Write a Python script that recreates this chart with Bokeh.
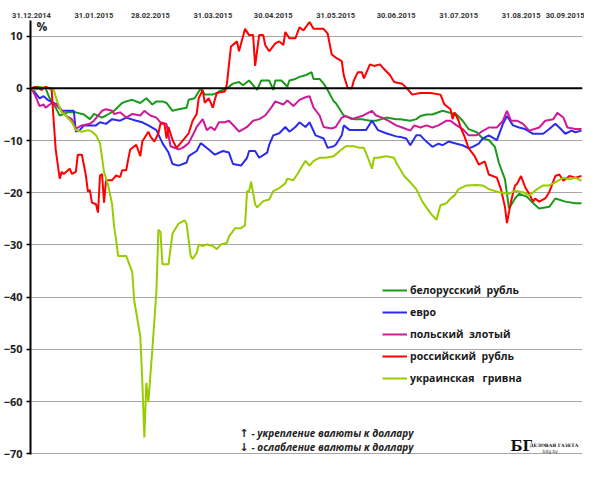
from bokeh.plotting import figure
from bokeh.models import Range1d, FixedTicker, Label, Span
from bokeh.embed import file_html
from bokeh.resources import INLINE

# --- x axis (days since 31.12.2014) ---
tick_days = [0, 31, 59, 90, 120, 151, 181, 212, 243, 273]
tick_labels = ["31.12.2014", "31.01.2015", "28.02.2015", "31.03.2015", "30.04.2015",
               "31.05.2015", "30.06.2015", "31.07.2015", "31.08.2015", "30.09.2015"]
y_ticks = [-70, -60, -50, -40, -30, -20, -10, 0, 10]

series_names = ["белорусский  рубль", "евро", "польский  злотый", "российский  рубль", "украинская   гривна"]
series_colors = ["#1a9a1a", "#2b2bf0", "#d0189a", "#ff0000", "#99cc00"]

byr_days = [0, 3, 7, 9, 12, 14, 18, 22, 26, 29, 31, 35, 37, 41, 45, 47, 50, 54, 57, 60, 62, 65, 67, 70,
            73, 77, 78, 81, 84, 86, 90, 92, 93, 97, 100, 103, 105, 108, 112, 114, 118, 120, 121, 124,
            127, 128, 131, 133, 136, 139, 140, 143, 145, 147, 150, 151, 153, 155, 160, 164, 168, 171,
            176, 181, 183, 188, 191, 193, 196, 199, 204, 207, 211, 214, 217, 221, 224, 227, 230, 232,
            235, 237, 240, 242, 246, 249, 252, 257, 260, 265, 270, 273]
byr_vals = [0, 0.3, 0, -1.9, -3.7, -5.2, -4.6, -4.6, -5.0, -5.9, -4.9, -5.6, -5.2, -4.3, -2.8, -2.5,
            -2.2, -2.8, -1.9, -3.1, -2.5, -2.5, -2.8, -4.3, -4.0, -3.7, -2.2, -1.9, 0, -1.2, -1.2,
            -0.9, -0.6, 0, 0.9, 1.2, 0.6, 1.5, -0.3, 1.5, 1.5, -0.3, 1.5, 1.5, 0.3, 1.5, 1.8, 2.2,
            2.5, 3.1, 1.8, 1.8, 0.9, -0.3, -2.5, -2.8, -4.0, -5.2, -5.9, -5.9, -6.2, -6.2, -5.6,
            -5.9, -5.9, -6.2, -5.9, -5.3, -5.0, -5.0, -4.3, -4.6, -5.0, -6.2, -7.8, -8.4, -9.6,
            -9.9, -11.2, -14.3, -17.4, -23.0, -21.1, -20.2, -20.8, -22.0, -23.0, -22.7, -21.1,
            -21.7, -22.0, -22.0]

eur_days = [0, 2, 4, 6, 8, 11, 13, 15, 21, 22, 24, 26, 32, 34, 37, 40, 44, 47, 52, 55, 58, 62, 65,
            68, 70, 73, 77, 78, 82, 84, 88, 91, 95, 98, 100, 104, 107, 108, 111, 113, 117, 118, 120,
            123, 126, 128, 131, 133, 136, 138, 141, 145, 147, 150, 151, 154, 155, 158, 160, 166, 169,
            172, 176, 181, 183, 186, 188, 191, 193, 196, 199, 202, 204, 207, 211, 214, 217, 219, 222,
            224, 227, 231, 234, 236, 239, 242, 245, 249, 254, 257, 260, 262, 265, 268, 270, 273]
eur_vals = [0, -0.9, -1.9, -1.5, -2.2, -2.8, -3.1, -4.3, -4.3, -8.3, -8.0, -7.1, -7.1, -6.5, -6.8,
            -5.9, -6.2, -5.6, -6.2, -6.5, -7.1, -8.0, -10.5, -12.3, -14.5, -14.8, -14.2, -13.0,
            -12.0, -10.5, -11.7, -12.7, -12.0, -12.3, -14.5, -14.8, -13.3, -12.0, -12.0, -13.3,
            -12.3, -10.8, -9.0, -8.6, -7.4, -8.3, -7.4, -6.5, -7.4, -6.5, -9.0, -9.6, -11.4, -11.1,
            -10.8, -9.0, -7.1, -8.0, -8.0, -8.0, -6.2, -8.0, -8.6, -9.2, -9.3, -9.6, -10.9, -9.0,
            -9.0, -10.2, -11.2, -10.6, -10.9, -10.2, -10.6, -10.9, -11.5, -11.2, -10.6, -9.6, -9.0,
            -9.9, -6.8, -5.3, -7.1, -7.5, -7.8, -8.7, -8.7, -7.8, -6.8, -7.5, -8.7, -8.1, -8.4, -8.1]

pln_days = [0, 2, 4, 6, 7, 10, 12, 15, 17, 20, 22, 25, 29, 31, 35, 37, 40, 41, 44, 47, 50, 54, 56,
            59, 62, 64, 67, 69, 73, 75, 78, 80, 82, 85, 87, 89, 91, 93, 96, 98, 101, 103, 107, 110,
            113, 116, 119, 121, 125, 127, 130, 133, 136, 138, 140, 143, 145, 149, 151, 154, 156,
            159, 164, 169, 171, 174, 177, 181, 184, 188, 190, 193, 196, 199, 202, 206, 208, 211,
            214, 217, 221, 223, 227, 231, 234, 236, 238, 241, 244, 247, 252, 255, 259, 261, 264,
            266, 270, 273]
pln_vals = [0, -1.5, -3.4, -3.1, -3.7, -2.8, -3.1, -4.3, -5.2, -5.9, -7.7, -7.1, -6.8, -6.2, -4.3,
            -4.0, -4.3, -4.9, -4.6, -5.6, -4.9, -5.2, -4.3, -5.2, -5.6, -6.5, -6.8, -11.1, -11.7,
            -11.4, -10.5, -9.0, -7.4, -5.9, -8.0, -7.4, -8.0, -6.5, -6.5, -6.2, -7.4, -8.3, -7.4,
            -6.2, -5.9, -5.2, -3.7, -2.5, -3.1, -2.3, -3.4, -2.2, -1.7, -1.5, -3.7, -5.2, -7.4,
            -7.7, -7.4, -5.6, -5.3, -5.9, -5.3, -4.3, -5.2, -5.6, -6.2, -7.1, -7.5, -8.1, -7.1,
            -7.5, -7.1, -7.5, -7.1, -6.2, -6.2, -7.1, -7.8, -9.0, -9.0, -8.4, -7.5, -7.5, -6.2,
            -4.3, -6.2, -6.2, -6.8, -8.1, -7.5, -6.2, -5.9, -4.7, -5.6, -7.5, -7.8, -7.8]

rub_days = [0, 2, 5, 7, 9, 10, 11, 12, 14, 15, 16, 19, 20, 22, 23, 25, 27, 28, 29, 30, 32, 33, 34,
            35, 36, 37, 40, 42, 44, 45, 47, 48, 49, 52, 54, 55, 58, 59, 61, 63, 64, 66, 67, 68, 70,
            72, 74, 76, 78, 80, 82, 83, 85, 86, 88, 90, 91, 92, 96, 97, 99, 102, 103, 106, 108, 110,
            111, 113, 115, 116, 118, 121, 123, 125, 126, 128, 131, 133, 135, 138, 140, 145, 147,
            149, 151, 154, 155, 157, 159, 160, 162, 164, 165, 168, 170, 173, 175, 178, 180, 184,
            187, 189, 193, 198, 203, 205, 208, 209, 210, 212, 213, 215, 217, 220, 222, 225, 227,
            231, 233, 235, 236, 238, 240, 241, 243, 245, 247, 249, 250, 252, 255, 257, 260, 262,
            264, 267, 270, 273]
rub_vals = [0, 0.3, -0.3, 0.3, 0, -0.3, -6.2, -11.7, -17.3, -16.0, -16.4, -15.4, -16.4, -16.0,
            -12.7, -12.7, -16.7, -19.8, -19.5, -21.9, -22.2, -23.8, -16.7, -16.4, -21.9, -17.6,
            -17.6, -16.7, -17.0, -15.7, -15.7, -13.6, -11.7, -10.8, -13.0, -10.2, -8.3, -9.2,
            -10.2, -8.6, -6.8, -6.8, -9.6, -7.4, -9.9, -11.4, -10.5, -9.6, -8.6, -6.2, -4.9, -1.9,
            -0.3, -2.8, -1.9, -3.7, -2.2, -0.9, -0.6, 0.9, 8.0, 9.0, 7.1, 11.4, 10.2, 10.2, 4.3,
            10.2, 10.2, 8.3, 7.1, 8.6, 9.0, 8.3, 10.8, 9.6, 9.6, 11.7, 11.1, 12.7, 11.4, 11.4, 10.5,
            6.5, 5.9, 5.2, 2.5, 0, 0, 1.5, 3.1, 3.1, 1.9, 4.6, 4.3, 4.6, 3.7, 2.5, 1.2, 0.9, -0.3,
            -1.2, -0.9, -0.9, -1.2, -3.1, -4.0, -5.9, -4.6, -6.2, -7.5, -9.3, -11.5, -13.0, -14.6,
            -14.0, -16.5, -17.1, -19.3, -22.7, -25.8, -21.7, -18.6, -18.3, -16.8, -18.9, -20.2,
            -21.7, -21.1, -21.7, -21.1, -19.9, -16.8, -16.5, -17.7, -16.8, -17.1, -16.8]

uah_days = [0, 2, 5, 7, 10, 11, 13, 15, 17, 20, 22, 25, 28, 30, 32, 34, 36, 38, 40, 41, 42, 43, 47,
            50, 51, 54, 55, 56, 57, 58, 60, 62, 63, 64, 65, 68, 70, 73, 76, 77, 79, 80, 82, 83, 85,
            87, 90, 92, 94, 97, 98, 101, 104, 106, 107, 108, 109, 111, 112, 115, 118, 120, 123, 126,
            127, 130, 132, 135, 136, 138, 140, 143, 146, 150, 153, 156, 160, 163, 165, 167, 169,
            170, 172, 176, 180, 181, 183, 185, 188, 191, 194, 198, 201, 203, 206, 208, 210, 212,
            216, 221, 224, 227, 232, 237, 240, 244, 247, 251, 254, 257, 260, 264, 267, 270, 273]
uah_vals = [0, -0.3, 0.3, 0, 0, -0.3, -2.8, -4.6, -5.2, -6.5, -8.0, -8.3, -8.0, -8.3, -9.0, -10.5,
            -16.0, -18.5, -22.2, -26.5, -29.0, -32.1, -32.1, -35.2, -40.7, -47.5, -56.1, -66.9,
            -56.4, -60.1, -49.9, -38.9, -27.1, -27.5, -33.7, -33.7, -27.8, -25.9, -25.3, -26.0,
            -32.1, -32.7, -31.5, -29.9, -30.2, -29.9, -30.2, -30.8, -29.9, -29.6, -28.4, -26.8,
            -26.8, -26.2, -19.7, -19.7, -17.9, -22.2, -22.8, -21.6, -21.3, -19.7, -19.1, -18.2,
            -17.3, -17.6, -16.4, -14.5, -13.9, -14.8, -13.9, -13.3, -13.3, -13.0, -12.0, -11.1,
            -11.1, -11.4, -11.4, -13.3, -15.4, -13.3, -13.3, -13.0, -13.3, -14.2, -15.5, -16.8,
            -18.0, -19.3, -21.7, -23.9, -25.2, -22.4, -22.0, -21.1, -20.5, -19.3, -18.6, -18.5,
            -18.6, -19.3, -19.9, -20.2, -19.6, -19.9, -20.5, -19.3, -18.6, -18.6, -18.0, -17.1,
            -17.4, -17.1, -17.7]

series_days = [byr_days, eur_days, pln_days, rub_days, uah_days]
series_vals = [byr_vals, eur_vals, pln_vals, rub_vals, uah_vals]

p = figure(width=584, height=461, output_backend="svg", toolbar_location=None,
           x_range=Range1d(-0.5, 273.5), y_range=Range1d(-70.15, 13),
           x_axis_location="above", min_border_left=30, min_border_right=2,
           min_border_top=20, min_border_bottom=7)
p.outline_line_color = None
p.background_fill_color = "white"

# x axis on top
xa = p.xaxis[0]
xa.ticker = FixedTicker(ticks=tick_days)
xa.major_label_overrides = {d: lab for d, lab in zip(tick_days, tick_labels)}
xa.major_tick_out = 0
xa.major_tick_in = 0
xa.minor_tick_out = 0
xa.minor_tick_in = 0
xa.axis_line_color = None
xa.major_label_standoff = 3
xa.major_label_text_font = "Roboto"
xa.major_label_text_font_style = "bold"
xa.major_label_text_font_size = "7.5px"
xa.major_label_text_color = "#333333"
p.xgrid.grid_line_color = None

ya = p.yaxis[0]
ya.ticker = FixedTicker(ticks=y_ticks)
ya.axis_line_color = "black"
ya.axis_line_width = 2
ya.major_tick_out = 4
ya.major_tick_in = 0
ya.minor_tick_out = 0
ya.minor_tick_in = 0
ya.major_tick_line_color = "black"
ya.major_tick_line_width = 1.5
ya.major_label_standoff = 4
ya.major_label_text_font = "Open Sans"
ya.major_label_text_font_style = "bold"
ya.major_label_text_font_size = "11px"
ya.major_label_text_color = "#222222"
p.ygrid.ticker = FixedTicker(ticks=y_ticks)
p.ygrid.grid_line_color = "#a6a6a6"
p.ygrid.grid_line_width = 1.2

p.add_layout(Span(location=0, dimension="width", line_color="black", line_width=2))

for name, color, d, v in zip(series_names, series_colors, series_days, series_vals):
    p.line(d, v, line_color=color, line_width=2, legend_label=name)

lg = p.legend[0]
lg.location = (352, 68)
lg.background_fill_alpha = 0
lg.border_line_alpha = 0
lg.padding = 0
lg.margin = 0
lg.spacing = 6
lg.glyph_height = 16
lg.label_height = 16
lg.glyph_width = 25
lg.label_standoff = 3
lg.label_text_font = "Open Sans"
lg.label_text_font_style = "bold"
lg.label_text_font_size = "10.5px"
lg.label_text_color = "#1a1a1a"

p.add_layout(Label(x=6, y=420, x_units="screen", y_units="screen", text="%",
                   text_font="Open Sans", text_font_style="bold", text_font_size="12px",
                   text_color="#222222"))

arrows = ["↑", "↓"]
notes = ["- укрепление  валюты к доллару", "- ослабление  валюты к доллару"]
for i, (a, t) in enumerate(zip(arrows, notes)):
    p.add_layout(Label(x=209, y=15 - i * 14, x_units="screen", y_units="screen", text=a,
                       text_font="DejaVu Sans", text_font_style="bold",
                       text_font_size="11px", text_color="#222222"))
    p.add_layout(Label(x=221, y=15 - i * 14, x_units="screen", y_units="screen", text=t,
                       text_font="Open Sans", text_font_style="bold italic",
                       text_font_size="10px", text_color="#222222"))

p.add_layout(Label(x=480, y=1, x_units="screen", y_units="screen", text="БГ",
                   text_font="DejaVu Serif", text_font_style="bold", text_font_size="14px",
                   text_color="#111111"))
p.add_layout(Label(x=499, y=7, x_units="screen", y_units="screen", text="ДЕЛОВАЯ ГАЗЕТА",
                   text_font="DejaVu Serif", text_font_style="bold", text_font_size="4.5px",
                   text_color="#111111"))
p.add_layout(Label(x=512, y=1, x_units="screen", y_units="screen", text="bdg.by",
                   text_font="DejaVu Sans", text_font_size="4.5px", text_color="#333333"))

open("out.html", "w").write(file_html(p, INLINE))
